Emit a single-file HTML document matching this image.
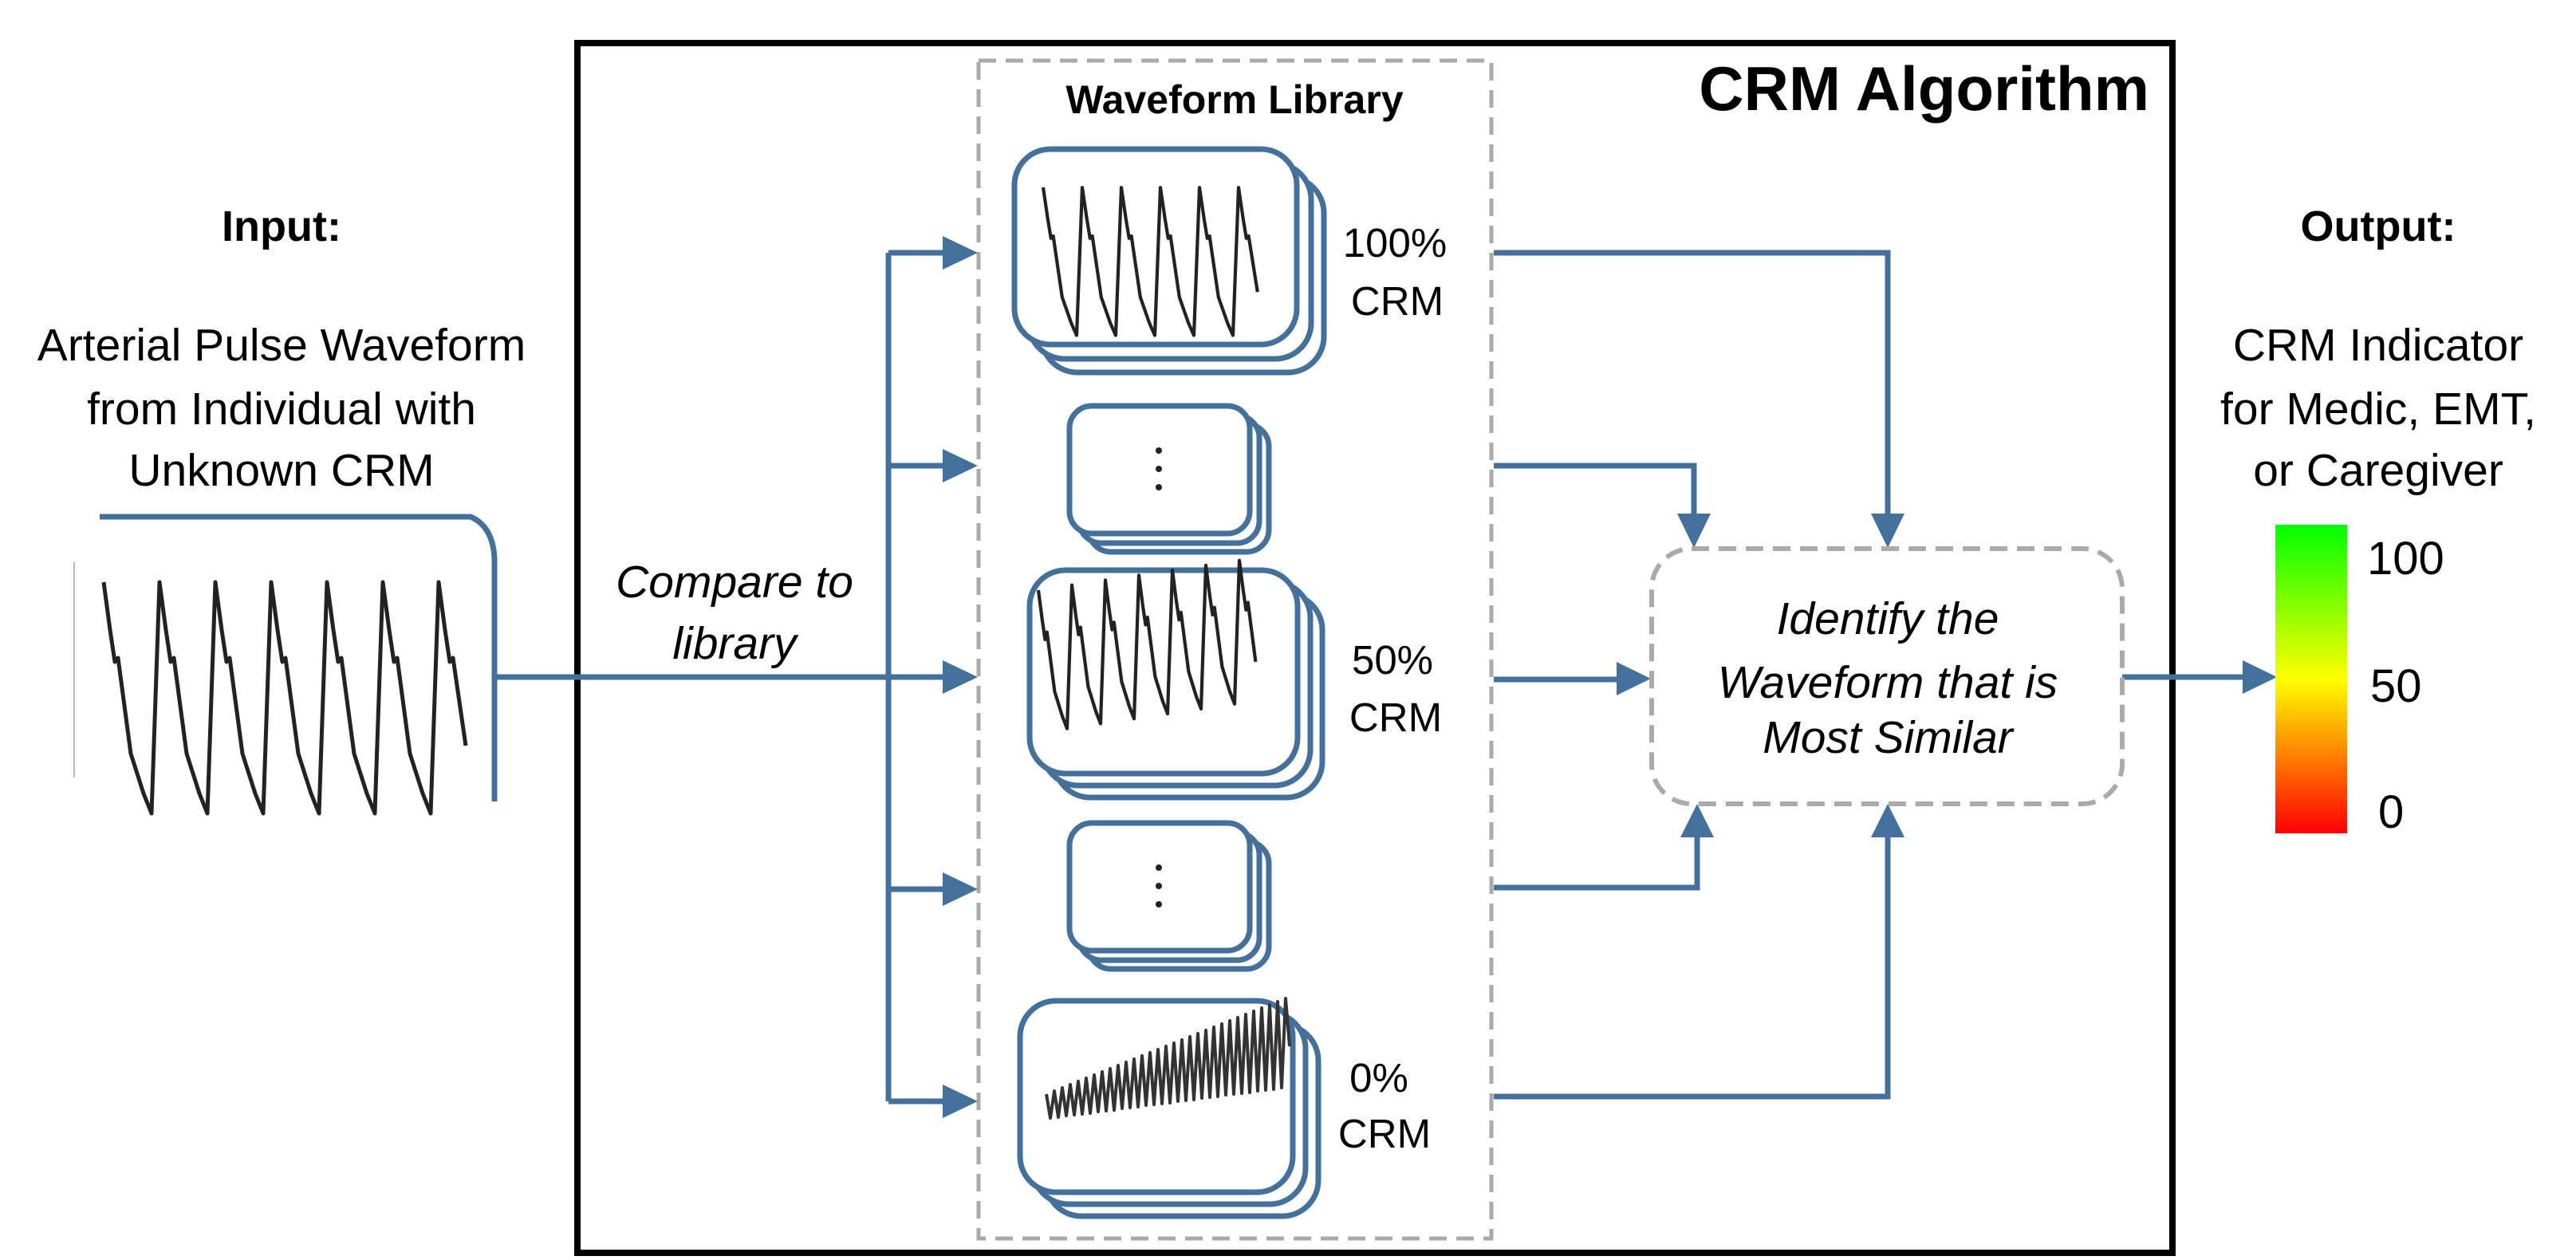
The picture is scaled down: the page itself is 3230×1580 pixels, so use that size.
<!DOCTYPE html>
<html><head><meta charset="utf-8"><style>
html,body{margin:0;padding:0;background:#fff}
svg{display:block}
text{font-family:"Liberation Sans",Arial,sans-serif}
</style></head><body>
<svg width="3230" height="1580" viewBox="0 0 3230 1580" xmlns="http://www.w3.org/2000/svg">
<defs>
<linearGradient id="cb" x1="0" y1="0" x2="0" y2="1">
<stop offset="0" stop-color="#00ff00"/><stop offset="0.5" stop-color="#ffff00"/><stop offset="1" stop-color="#ff0000"/>
</linearGradient>
</defs>

<rect x="724" y="54" width="2000" height="1517" fill="none" stroke="#000" stroke-width="8"/>
<text x="2695" y="138" font-size="78" font-weight="bold" text-anchor="end">CRM Algorithm</text>

<rect x="1227" y="76" width="643" height="1477" fill="none" stroke="#aaa" stroke-width="5" stroke-dasharray="22,12"/>
<text x="1548" y="142" font-size="50" font-weight="bold" text-anchor="middle">Waveform Library</text>

<text x="353" y="302" font-size="54" font-weight="bold" text-anchor="middle">Input:</text>
<text x="353" y="452" font-size="57" text-anchor="middle">Arterial Pulse Waveform</text>
<text x="353" y="532" font-size="57" text-anchor="middle">from Individual with</text>
<text x="353" y="609" font-size="57" text-anchor="middle">Unknown CRM</text>

<path d="M125,648 L590,648 Q618,660 620,700 L620,1005" fill="none" stroke="#44709c" stroke-width="7"/>
<line x1="93" y1="705" x2="93" y2="975" stroke="#bbb" stroke-width="2"/>
<g transform="translate(130,730)">
<path d="M0,0 l8,60 l6,40 l4,-5 l16,120 l16,50 l10,25 l10,-290 l8,60 l6,40 l4,-5 l16,120 l16,50 l10,25 l10,-290 l8,60 l6,40 l4,-5 l16,120 l16,50 l10,25 l10,-290 l8,60 l6,40 l4,-5 l16,120 l16,50 l10,25 l10,-290 l8,60 l6,40 l4,-5 l16,120 l16,50 l10,25 l10,-290 l8,60 l6,40 l4,-5 l16,120 l16,50 l10,25 l10,-290 l8,60 l6,40 l4,-5 l16,110" fill="none" stroke="#222" stroke-width="5" stroke-linejoin="round"/>
</g>

<g stroke="#44709c" stroke-width="7" fill="none">
<line x1="622" y1="849" x2="1190" y2="849"/>
<line x1="1114" y1="317" x2="1114" y2="1381"/>
<line x1="1114" y1="317" x2="1190" y2="317"/>
<line x1="1114" y1="584" x2="1190" y2="584"/>
<line x1="1114" y1="1115" x2="1190" y2="1115"/>
<line x1="1114" y1="1381" x2="1190" y2="1381"/>
</g>
<g fill="#44709c">
<polygon points="1182,296 1226,317 1182,338"/>
<polygon points="1182,563 1226,584 1182,605"/>
<polygon points="1182,828 1226,849 1182,870"/>
<polygon points="1182,1094 1226,1115 1182,1136"/>
<polygon points="1182,1360 1226,1381 1182,1402"/>
</g>
<text x="921" y="749" font-size="57" font-style="italic" text-anchor="middle">Compare to</text>
<text x="921" y="826" font-size="57" font-style="italic" text-anchor="middle">library</text>

<g fill="#fff" stroke="#44709c" stroke-width="7">
<rect x="1306" y="222" width="354" height="245" rx="45"/>
<rect x="1290" y="205" width="354" height="245" rx="45"/>
<rect x="1272" y="187" width="354" height="245" rx="45"/>
<rect x="1365" y="532" width="226" height="160" rx="28"/>
<rect x="1353" y="521" width="226" height="160" rx="28"/>
<rect x="1341" y="509" width="226" height="160" rx="28"/>
<rect x="1322" y="745" width="336" height="255" rx="45"/>
<rect x="1307" y="730" width="336" height="255" rx="45"/>
<rect x="1291" y="715" width="336" height="255" rx="45"/>
<rect x="1365" y="1055" width="226" height="160" rx="28"/>
<rect x="1353" y="1044" width="226" height="160" rx="28"/>
<rect x="1341" y="1032" width="226" height="160" rx="28"/>
<rect x="1311" y="1285" width="342" height="240" rx="45"/>
<rect x="1295" y="1270" width="342" height="240" rx="45"/>
<rect x="1279" y="1255" width="342" height="240" rx="45"/>
</g>
<g fill="#222">
<circle cx="1453" cy="565" r="4"/><circle cx="1453" cy="588" r="4"/><circle cx="1453" cy="611" r="4"/>
<circle cx="1453" cy="1088" r="4"/><circle cx="1453" cy="1111" r="4"/><circle cx="1453" cy="1134" r="4"/>
</g>
<g transform="translate(1308,235) scale(0.7,0.64)">
<path d="M0,0 l8,60 l6,40 l4,-5 l16,120 l16,50 l10,25 l10,-290 l8,60 l6,40 l4,-5 l16,120 l16,50 l10,25 l10,-290 l8,60 l6,40 l4,-5 l16,120 l16,50 l10,25 l10,-290 l8,60 l6,40 l4,-5 l16,120 l16,50 l10,25 l10,-290 l8,60 l6,40 l4,-5 l16,120 l16,50 l10,25 l10,-290 l8,60 l6,40 l4,-5 l16,110" fill="none" stroke="#222" stroke-width="6" stroke-linejoin="round"/>
</g>
<g transform="translate(1302,740) scale(0.6,0.62)">
<path d="M0,0 l8,60 l6,40 l4,-15 l16,120 l16,50 l10,25 l10,-290 l8,60 l6,40 l4,-15 l16,120 l16,50 l10,25 l10,-290 l8,60 l6,40 l4,-15 l16,120 l16,50 l10,25 l10,-290 l8,60 l6,40 l4,-15 l16,120 l16,50 l10,25 l10,-290 l8,60 l6,40 l4,-15 l16,120 l16,50 l10,25 l10,-290 l8,60 l6,40 l4,-15 l16,120 l16,50 l10,25 l10,-290 l8,60 l6,40 l4,-15 l16,120" fill="none" stroke="#222" stroke-width="7" stroke-linejoin="round"/>
</g>
<path d="M1312,1372 l5,30 l5,-34 l5,33 l5,-37 l5,35 l5,-39 l5,38 l5,-42 l5,41 l5,-45 l5,44 l5,-48 l5,46 l5,-50 l5,49 l5,-53 l5,52 l5,-56 l5,54 l5,-58 l5,57 l5,-61 l5,60 l5,-64 l5,62 l5,-66 l5,65 l5,-69 l5,68 l5,-72 l5,71 l5,-75 l5,73 l5,-77 l5,76 l5,-80 l5,79 l5,-83 l5,81 l5,-85 l5,84 l5,-88 l5,87 l5,-91 l5,89 l5,-93 l5,92 l5,-96 l5,95 l5,-99 l5,98 l5,-102 l5,100 l5,-104 l5,103 l5,-107 l5,106 l5,-110 l5,108 l5,-112 l5,60" fill="none" stroke="#333" stroke-width="4" stroke-linejoin="round"/>

<g font-size="51" text-anchor="middle">
<text x="1749" y="322">100%</text><text x="1752" y="395">CRM</text>
<text x="1746" y="845">50%</text><text x="1750" y="917">CRM</text>
<text x="1729" y="1369">0%</text><text x="1736" y="1439">CRM</text>
</g>

<g stroke="#44709c" stroke-width="7" fill="none">
<polyline points="1873,317 2367,317 2367,650"/>
<polyline points="1873,584 2124,584 2124,650"/>
<polyline points="1873,852 2035,852"/>
<polyline points="1873,1113 2128,1113 2128,1045"/>
<polyline points="1873,1375 2367,1375 2367,1045"/>
<line x1="2661" y1="849" x2="2815" y2="849"/>
</g>
<g fill="#44709c">
<polygon points="2103,644 2145,644 2124,687"/>
<polygon points="2346,644 2388,644 2367,687"/>
<polygon points="2027,830 2070,851 2027,872"/>
<polygon points="2107,1050 2149,1050 2128,1008"/>
<polygon points="2346,1050 2388,1050 2367,1008"/>
<polygon points="2812,828 2855,849 2812,870"/>
</g>

<rect x="2071" y="688" width="590" height="320" rx="50" fill="none" stroke="#aaa" stroke-width="6" stroke-dasharray="22,12"/>
<g font-size="57" font-style="italic" text-anchor="middle">
<text x="2367" y="795">Identify the</text>
<text x="2367" y="875">Waveform that is</text>
<text x="2367" y="944">Most Similar</text>
</g>

<text x="2982" y="302" font-size="54" font-weight="bold" text-anchor="middle">Output:</text>
<text x="2982" y="452" font-size="57" text-anchor="middle">CRM Indicator</text>
<text x="2982" y="532" font-size="57" text-anchor="middle">for Medic, EMT,</text>
<text x="2982" y="609" font-size="57" text-anchor="middle">or Caregiver</text>
<rect x="2853" y="658" width="90" height="387" fill="url(#cb)"/>
<g font-size="58">
<text x="2968" y="720">100</text>
<text x="2972" y="880">50</text>
<text x="2982" y="1038">0</text>
</g>
</svg>
</body></html>
